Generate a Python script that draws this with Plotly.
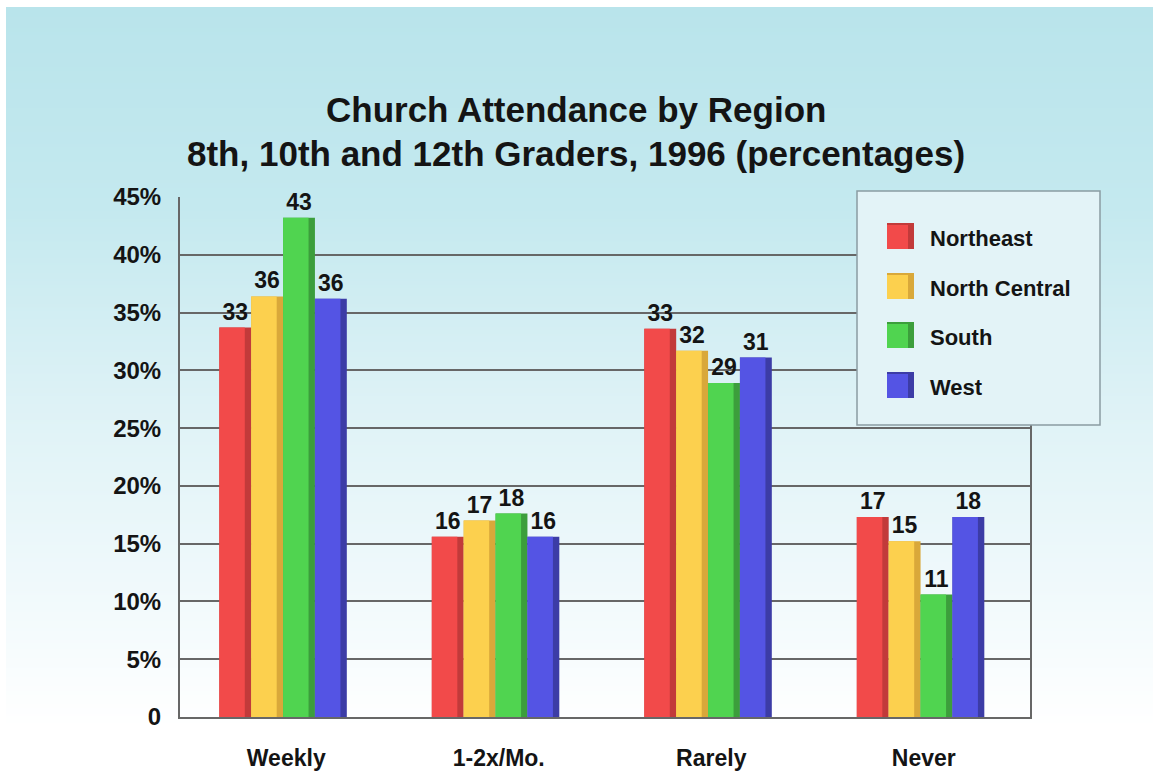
import base64, struct, zlib
import plotly.graph_objects as go

# ---------------- data ----------------
categories = ["Weekly", "1-2x/Mo.", "Rarely", "Never"]
series_names = ["Northeast", "North Central", "South", "West"]
# bar heights (percent)
northeast = [33.7, 15.6, 33.6, 17.3]
north_central = [36.4, 17.0, 31.7, 15.2]
south = [43.2, 17.6, 28.9, 10.6]
west = [36.2, 15.6, 31.1, 17.3]
# printed value labels
northeast_labels = ["33", "16", "33", "17"]
north_central_labels = ["36", "17", "32", "15"]
south_labels = ["43", "18", "29", "11"]
west_labels = ["36", "16", "31", "18"]
y_tick_vals = [0, 5, 10, 15, 20, 25, 30, 35, 40, 45]
y_tick_text = ["0", "5%", "10%", "15%", "20%", "25%", "30%", "35%", "40%", "45%"]
title_lines = ["Church Attendance by Region",
               "8th, 10th and 12th Graders, 1996 (percentages)"]

values = [northeast, north_central, south, west]
labels = [northeast_labels, north_central_labels, south_labels, west_labels]
front_colors = ["#f24a4a", "#fcd04e", "#50d450", "#5454e4"]
side_colors = ["#c23a3a", "#d9a83a", "#3c9e3c", "#3c3ca6"]

W, H = 1153, 774
L, R, T, B = 180, 123, 197, 57
PW, PH = W - L - R, H - T - B
FONT = "Liberation Sans, Arial, sans-serif"
TXT = "#141414"


def px_x(p):
    return (p - L) / PW


def px_y(p):
    return (H - B - p) / PH


# ---------------- gradient background image ----------------
def make_png(rows):
    raw = b"".join(b"\x00" + bytes(c) for c in rows)

    def chunk(tag, data):
        c = struct.pack(">I", len(data)) + tag + data
        return c + struct.pack(">I", zlib.crc32(tag + data) & 0xffffffff)

    ihdr = struct.pack(">IIBBBBB", 1, len(rows), 8, 2, 0, 0, 0)
    return (b"\x89PNG\r\n\x1a\n" + chunk(b"IHDR", ihdr)
            + chunk(b"IDAT", zlib.compress(raw)) + chunk(b"IEND", b""))


stops = [(0, (185, 228, 235)), (200, (196, 233, 239)), (400, (222, 242, 246)),
         (600, (242, 250, 252)), (720, (255, 255, 255)), (767, (255, 255, 255))]
rows = []
for yy in range(768):
    for (a, ca), (b, cb) in zip(stops[:-1], stops[1:]):
        if a <= yy <= b:
            t = (yy - a) / (b - a)
            rows.append(tuple(int(round(ca[k] + (cb[k] - ca[k]) * t)) for k in range(3)))
            break
img_src = "data:image/png;base64," + base64.b64encode(make_png(rows)).decode()

fig = go.Figure()

bar_w = 0.15
front_w = 0.12
for i, name in enumerate(series_names):
    off = -0.315 + i * bar_w
    fig.add_trace(go.Bar(
        x=categories, y=values[i], name=name, showlegend=False,
        offset=off, width=bar_w,
        marker=dict(color=side_colors[i], line=dict(width=0)),
        text=labels[i], textposition="outside", cliponaxis=False,
        textfont=dict(family=FONT, size=23, color=TXT, weight="bold"),
    ))
    fig.add_trace(go.Bar(
        x=categories, y=values[i], name=name, showlegend=False,
        offset=off, width=front_w,
        marker=dict(color=front_colors[i], line=dict(width=0)),
        hoverinfo="skip",
    ))

shapes = []
annotations = []

# custom legend box
lx0, lx1, ly0, ly1 = 857, 1100, 191, 425
shapes.append(dict(type="rect", xref="paper", yref="paper",
                   x0=px_x(lx0), x1=px_x(lx1), y0=px_y(ly1), y1=px_y(ly0),
                   fillcolor="#e3f3f7", line=dict(color="#8a9ca2", width=1.5),
                   layer="above"))
item_y = [236, 286, 335, 385]
for i, name in enumerate(series_names):
    cy = item_y[i]
    shapes.append(dict(type="rect", xref="paper", yref="paper",
                       x0=px_x(887), x1=px_x(914), y0=px_y(cy + 13), y1=px_y(cy - 13),
                       fillcolor=side_colors[i], line=dict(width=0), layer="above"))
    shapes.append(dict(type="rect", xref="paper", yref="paper",
                       x0=px_x(887), x1=px_x(908), y0=px_y(cy + 13), y1=px_y(cy - 11),
                       fillcolor=front_colors[i], line=dict(width=0), layer="above"))
    annotations.append(dict(text=name, xref="paper", yref="paper",
                            x=px_x(928), y=px_y(cy + 2), xanchor="left", yanchor="middle",
                            showarrow=False,
                            font=dict(family=FONT, size=22, color=TXT, weight="bold")))

# title
for line, yc in zip(title_lines, [110, 153]):
    annotations.append(dict(text=line, xref="paper", yref="paper",
                            x=px_x(576), y=px_y(yc), xanchor="center", yanchor="middle",
                            showarrow=False,
                            font=dict(family=FONT, size=35, color=TXT, weight="bold")))

fig.update_layout(
    width=W, height=H,
    margin=dict(l=L, r=R, t=T, b=B, pad=0, autoexpand=False),
    paper_bgcolor="white",
    plot_bgcolor="rgba(0,0,0,0)",
    barmode="overlay",
    showlegend=False,
    shapes=shapes,
    annotations=annotations,
    images=[dict(source=img_src, xref="paper", yref="paper",
                 x=px_x(6), y=px_y(7), sizex=(W - 6) / PW, sizey=(H - 7) / PH,
                 xanchor="left", yanchor="top", sizing="stretch", layer="below")],
    font=dict(family=FONT, color=TXT),
)

fig.update_xaxes(
    type="category", showgrid=False, showline=True, linecolor="#676767", linewidth=2,
    ticks="", ticklabelstandoff=19, automargin=False,
    tickfont=dict(family=FONT, size=23, color=TXT, weight="bold"),
    range=[-0.5, 3.5], fixedrange=True,
)
fig.update_yaxes(
    range=[0, 45], tickvals=y_tick_vals, ticktext=y_tick_text,
    showgrid=True, gridcolor="#676767", gridwidth=2,
    showline=True, linecolor="#676767", linewidth=2, mirror=True,
    zeroline=False, ticks="", ticklabelstandoff=12, automargin=False,
    tickfont=dict(family=FONT, size=24, color=TXT, weight="bold"),
    fixedrange=True,
)

fig.write_html("out.html", config={"displayModeBar": False},
               post_script="document.body.style.margin='0px';")
